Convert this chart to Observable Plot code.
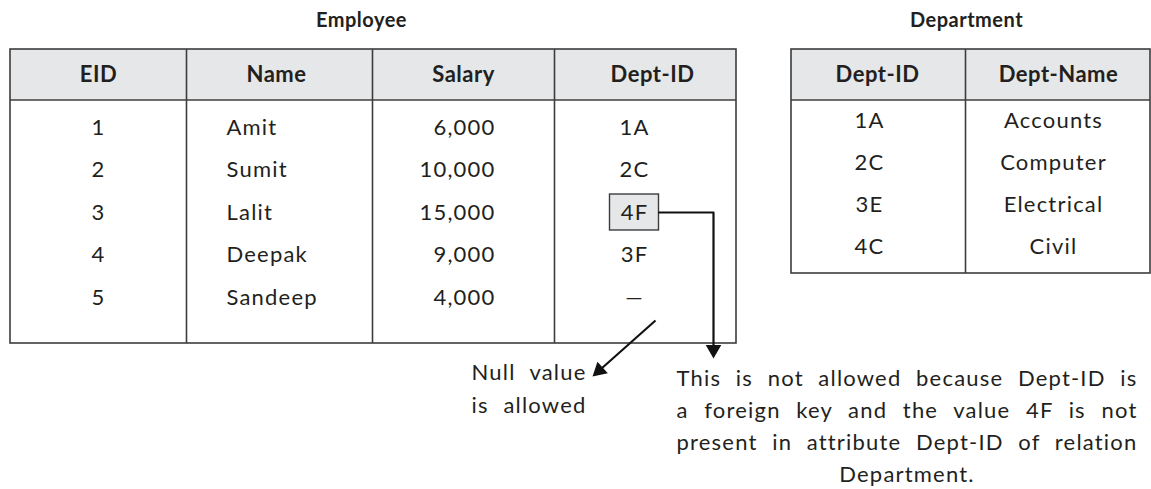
<!DOCTYPE html>
<html>
<head>
<meta charset="utf-8">
<script src="https://cdn.jsdelivr.net/npm/d3@7"></script>
<script src="https://cdn.jsdelivr.net/npm/@observablehq/plot@0.6"></script>
<style>
  html, body { margin: 0; padding: 0; background: #ffffff; }
  #chart svg { display: block; }
</style>
</head>
<body>
<div id="chart"></div>
<script>
// ---------- data ----------
const employeeTitle = "Employee";
const departmentTitle = "Department";
const employeeColumns = ["EID", "Name", "Salary", "Dept-ID"];
const employeeIds = [1, 2, 3, 4, 5];
const employeeNames = ["Amit", "Sumit", "Lalit", "Deepak", "Sandeep"];
const employeeSalaries = [6000, 10000, 15000, 9000, 4000];
const employeeDeptIds = ["1A", "2C", "4F", "3F", "—"];
const departmentColumns = ["Dept-ID", "Dept-Name"];
const departmentIds = ["1A", "2C", "3E", "4C"];
const departmentNames = ["Accounts", "Computer", "Electrical", "Civil"];
const invalidDeptId = "4F";
const nullDeptId = "—";
const nullNote = ["Null value", "is allowed"];
const foreignKeyNote = [
  "This is not allowed because Dept-ID is",
  "a foreign key and the value 4F is not",
  "present in attribute Dept-ID of relation",
  "Department."
];

// ---------- layout (pixel units of the drawing) ----------
const W = 1151, H = 489;
const L = {
  titleY: 20,
  top: 49,
  headerBottom: 99.5,
  headerY: 74,
  emp: {
    cols: [10, 186, 372, 554, 736],
    bottom: 343,
    rowY0: 127, rowStep: 42.5,
    headerX: [98, 276, 463, 652],
    cellX: [98, 226, 495, 634],
    cellAnchor: ["middle", "start", "end", "middle"],
    titleX: 361,
    boxHalfW: 24.5, boxHalfH: 18
  },
  dept: {
    cols: [791, 965, 1150],
    bottom: 273,
    rowY0: 120, rowStep: 42.3,
    headerX: [877, 1058],
    cellX: [869, 1053],
    titleX: 966
  },
  fkArrow: { elbowX: 713, tipY: 358 },
  nullArrow: { startDx: 21, startY: 320, tipX: 592, tipY: 376 },
  nullNote: { x: 471, right: 586, y0: 372, step: 33 },
  fkNote: { left: 676, right: 1137, y0: 378, step: 32 },
  headSize: 5.8
};

const ink = "#231f20";
const lineColor = "#3c3c3c";
const headerFill = "#e6e7e8";
const bodyFont = 22;

const E = L.emp, D = L.dept;
const empRowY = i => E.rowY0 + i * E.rowStep;
const deptRowY = i => D.rowY0 + i * D.rowStep;
const fmt = d3.format(",");

// employee cells by column
const empCellText = [
  employeeIds.map(String),
  employeeNames,
  employeeSalaries.map(fmt),
  employeeDeptIds
];
const empCells = empCellText.map((col, c) => col.map((t, i) => ({text: t, x: E.cellX[c], y: empRowY(i)})));
const deptCells = [departmentIds, departmentNames].map((col, c) => col.map((t, i) => ({text: t, x: D.cellX[c], y: deptRowY(i)})));

const empHeaders = employeeColumns.map((t, c) => ({text: t, x: E.headerX[c], y: L.headerY}));
const deptHeaders = departmentColumns.map((t, c) => ({text: t, x: D.headerX[c], y: L.headerY}));
const titles = [
  {text: employeeTitle, x: E.titleX, y: L.titleY},
  {text: departmentTitle, x: D.titleX, y: L.titleY}
];

const tables = [
  {x1: E.cols[0], x2: E.cols[E.cols.length - 1], y1: L.top, y2: E.bottom},
  {x1: D.cols[0], x2: D.cols[D.cols.length - 1], y1: L.top, y2: D.bottom}
];
const headerBands = tables.map(t => ({x1: t.x1, x2: t.x2, y1: L.top, y2: L.headerBottom}));
const dividers = [
  ...E.cols.slice(1, -1).map(x => ({x, y1: L.top, y2: E.bottom})),
  ...D.cols.slice(1, -1).map(x => ({x, y1: L.top, y2: D.bottom}))
];

// highlighted invalid foreign key
const badIndex = employeeDeptIds.indexOf(invalidDeptId);
const badBox = {
  x1: E.cellX[3] - E.boxHalfW, x2: E.cellX[3] + E.boxHalfW,
  y1: empRowY(badIndex) - E.boxHalfH, y2: empRowY(badIndex) + E.boxHalfH
};

// arrow geometry
const tipOffset = L.headSize * 1.56; // centroid-to-tip of a triangle symbol
const fkPath = [
  {x: badBox.x2, y: empRowY(badIndex)},
  {x: L.fkArrow.elbowX, y: empRowY(badIndex)},
  {x: L.fkArrow.elbowX, y: L.fkArrow.tipY - tipOffset}
];
const nStart = {x: E.cellX[3] + L.nullArrow.startDx, y: L.nullArrow.startY};
const nTip = {x: L.nullArrow.tipX, y: L.nullArrow.tipY};
const ndx = nTip.x - nStart.x, ndy = nTip.y - nStart.y, nlen = Math.hypot(ndx, ndy);
const nHead = {x: nTip.x - ndx / nlen * tipOffset, y: nTip.y - ndy / nlen * tipOffset};
const nullAngle = Math.atan2(ndx, -ndy) * 180 / Math.PI;
const heads = [
  {x: L.fkArrow.elbowX, y: L.fkArrow.tipY - tipOffset, rotate: 180},
  {x: nHead.x, y: nHead.y, rotate: nullAngle}
];

const nullLines = nullNote.map((t, i) => ({text: t, x: L.nullNote.x, y: L.nullNote.y0 + i * L.nullNote.step}));
const fkLines = foreignKeyNote.map((t, i) => ({text: t, x: L.fkNote.left, y: L.fkNote.y0 + i * L.fkNote.step, last: i === foreignKeyNote.length - 1}));

const textOpts = (anchor, size, weight) => ({
  x: "x", y: "y", text: "text", textAnchor: anchor, fontSize: size,
  fontWeight: weight || "normal", fill: ink, lineAnchor: "middle"
});

const plot = Plot.plot({
  width: W, height: H,
  margin: 0,
  x: {domain: [0, W], range: [0, W], axis: null},
  y: {domain: [0, H], range: [0, H], axis: null},
  style: {fontFamily: "Lato, 'Open Sans', sans-serif", background: "#ffffff", color: ink},
  marks: [
    Plot.rect(headerBands, {x1: "x1", x2: "x2", y1: "y1", y2: "y2", fill: headerFill}),
    Plot.ruleY(tables, {y: () => L.headerBottom, x1: "x1", x2: "x2", stroke: lineColor, strokeWidth: 1.6}),
    Plot.ruleX(dividers, {x: "x", y1: "y1", y2: "y2", stroke: lineColor, strokeWidth: 1.6}),
    Plot.rect(tables, {x1: "x1", x2: "x2", y1: "y1", y2: "y2", fill: "none", stroke: lineColor, strokeWidth: 1.6}),
    Plot.rect([badBox], {x1: "x1", x2: "x2", y1: "y1", y2: "y2", fill: headerFill, stroke: lineColor, strokeWidth: 1.4}),
    // arrows
    Plot.line(fkPath, {x: "x", y: "y", stroke: "#111", strokeWidth: 2.2, curve: "linear"}),
    Plot.link([{x1: nStart.x, y1: nStart.y, x2: nHead.x, y2: nHead.y}], {x1: "x1", y1: "y1", x2: "x2", y2: "y2", stroke: "#111", strokeWidth: 2.2}),
    Plot.dot(heads, {x: "x", y: "y", rotate: "rotate", symbol: "triangle", r: L.headSize, fill: "#111", stroke: "none"}),
    // titles & headers
    Plot.text(titles, textOpts("middle", 20, "bold")),
    Plot.text(empHeaders, textOpts("middle", bodyFont, "bold")),
    Plot.text(deptHeaders, textOpts("middle", bodyFont, "bold")),
    // cells
    ...empCells.map((cells, c) => Plot.text(cells, textOpts(E.cellAnchor[c], bodyFont))),
    ...deptCells.map(cells => Plot.text(cells, textOpts("middle", bodyFont))),
    // notes
    Plot.text(nullLines, textOpts("start", bodyFont)),
    Plot.text(fkLines.filter(d => !d.last), textOpts("start", bodyFont)),
    Plot.text(fkLines.filter(d => d.last), {...textOpts("middle", bodyFont), x: () => (L.fkNote.left + L.fkNote.right) / 2})
  ]
});

document.getElementById("chart").append(plot);

// typographic tracking similar to the reference's typesetting
plot.querySelectorAll("text").forEach(t => {
  const bold = t.closest("[font-weight='bold']");
  t.style.letterSpacing = bold ? "0.5px" : "1.2px";
});

// justify paragraph lines to their measures
function justify(lines, left, right) {
  plot.querySelectorAll("text").forEach(t => {
    if (!lines.includes(t.textContent)) return;
    const w = t.getComputedTextLength();
    const gaps = (t.textContent.match(/ /g) || []).length;
    if (gaps > 0) t.setAttribute("word-spacing", Math.max(0, (right - left - w) / gaps).toFixed(2));
  });
}
justify(foreignKeyNote.slice(0, -1), L.fkNote.left, L.fkNote.right);
justify(nullNote, L.nullNote.x, L.nullNote.right);
</script>
</body>
</html>
